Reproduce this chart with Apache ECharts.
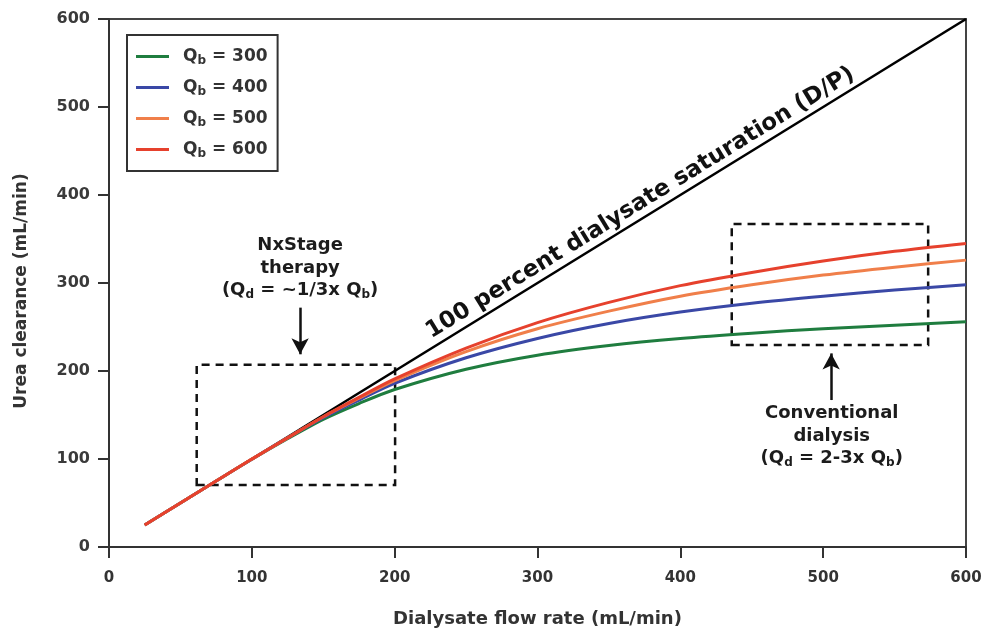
<!DOCTYPE html>
<html><head><meta charset="utf-8">
<script src="https://cdn.jsdelivr.net/npm/echarts@6/dist/echarts.min.js"></script>
<style>html,body{margin:0;padding:0;background:#fff}#c{width:985px;height:634px}</style>
</head><body><div id="c"></div><script>
// Dialysate flow rate (x) sample points, mL/min
const flowRates = [25, 50, 75, 100, 125, 150, 175, 200, 250, 300, 350, 400, 450, 500, 550, 600];
// Urea clearance (mL/min) for each blood flow rate
const qb300 = [25, 50, 75, 99.7, 123, 145, 163, 179, 202, 218, 229, 237, 243, 248, 252, 256];
const qb400 = [25, 50, 75, 99.8, 124, 147, 167, 186, 215, 237, 254, 267, 277, 285, 292, 298];
const qb500 = [25, 50, 75, 99.9, 124, 148, 169, 189, 222, 248, 268, 285, 298, 309, 318, 326];
const qb600 = [25, 50, 75, 99.9, 124, 148, 170, 191, 226, 255, 278, 297, 312, 325, 336, 345];
const seriesNames = ['Qb = 300', 'Qb = 400', 'Qb = 500', 'Qb = 600'];
const seriesColors = ['#1f7d3f', '#3a48a6', '#f07f4a', '#e6412d'];
// 100 percent saturation line (D/P): clearance = dialysate flow
const saturationLine = [[25, 25], [600, 600]];
const axisTicks = [0, 100, 200, 300, 400, 500, 600];
// annotation boxes [xMin, yMin, xMax, yMax] in data units
const boxes = [[61.4, 70.5, 200.3, 207], [436, 229.5, 573.5, 367]];
// arrows [x, yFrom, yTo] in data units
const arrows = [[133.8, 272, 219], [505.6, 167, 220]];
// annotation texts anchored at data points
const notePoints = [[133.8, 317], [506, 126]];
const diagonalLabelPoint = [372, 391];

const allSeries = [qb300, qb400, qb500, qb600];
const font = 'DejaVu Sans';
const chart = echarts.init(document.getElementById('c'), null, {renderer: 'canvas'});

const rich = {
  b: {fontFamily: font, fontWeight: 'bold', fontSize: 18, color: '#1c1c1c', lineHeight: 22.5},
  s: {fontFamily: font, fontWeight: 'bold', fontSize: 12, color: '#1c1c1c', lineHeight: 22.5, padding: [9, 0, 0, 0]}
};

const series = [];
series.push({
  name: 'saturation', type: 'line', data: saturationLine, symbol: 'none',
  lineStyle: {color: '#000', width: 2.6}, z: 2, silent: true
});
allSeries.forEach((vals, i) => {
  series.push({
    name: seriesNames[i], type: 'line', smooth: 0.3, symbol: 'none',
    data: flowRates.map((x, j) => [x, vals[j]]),
    lineStyle: {color: seriesColors[i], width: 3}, itemStyle: {color: seriesColors[i]},
    z: 3 + i
  });
});
// dashed boxes and arrows
series.push({
  name: 'annot', type: 'line', data: [], z: 20, silent: true,
  markArea: {
    silent: true,
    itemStyle: {color: 'rgba(0,0,0,0)', borderColor: '#111', borderWidth: 2.5, borderType: [8, 6]},
    label: {show: false},
    data: boxes.map(b => [{coord: [b[0], b[1]]}, {coord: [b[2], b[3]]}])
  },
  markLine: {
    silent: true, symbol: ['none', 'arrow'], symbolSize: [13, 16],
    label: {show: false},
    lineStyle: {color: '#111', width: 2.5, type: 'solid'},
    data: arrows.map(a => [{coord: [a[0], a[1]]}, {coord: [a[0], a[2]]}])
  }
});
const noteTexts = [
  '{b|NxStage}\n{b|therapy}\n{b|(Q}{s|d}{b| = ~1/3x Q}{s|b}{b|)}',
  '{b|Conventional}\n{b|dialysis}\n{b|(Q}{s|d}{b| = 2-3x Q}{s|b}{b|)}'
];
series.push({
  name: 'notes', type: 'scatter', z: 21, silent: true, symbolSize: 1,
  itemStyle: {color: 'rgba(0,0,0,0)', opacity: 1},
  data: notePoints.map((p, i) => ({value: p, label: {formatter: noteTexts[i]}})),
  label: {show: true, position: 'inside', align: 'center', verticalAlign: 'middle', opacity: 1, rich: rich}
});
series.push({
  name: 'diag', type: 'scatter', z: 21, silent: true, symbolSize: 1,
  itemStyle: {color: 'rgba(0,0,0,0)', opacity: 1},
  data: [diagonalLabelPoint],
  label: {show: true, position: 'inside', rotate: 31.6, opacity: 1,
    formatter: '100 percent dialysate saturation (D/P)',
    fontFamily: font, fontWeight: 'bold', fontSize: 23, color: '#111'}
});

const axisCommon = {
  type: 'value', min: 0, max: 600, interval: 100,
  axisLine: {show: true, onZero: false, lineStyle: {color: '#333', width: 2}},
  axisTick: {show: true, inside: false, length: 11, lineStyle: {color: '#333', width: 2}},
  splitLine: {show: false}
};

chart.setOption({
  animation: false,
  backgroundColor: '#fff',
  grid: {left: 109, right: 19, top: 19, bottom: 87, show: true, borderColor: '#444', borderWidth: 2},
  legend: {
    data: seriesNames, orient: 'vertical', left: 127, top: 35,
    icon: 'rect', itemWidth: 33, itemHeight: 3, itemGap: 10,
    padding: [11, 10, 11, 9],
    borderColor: '#333', borderWidth: 2, backgroundColor: '#fff',
    formatter: name => '{q|Q}{s|b}{t|' + name.slice(2) + '}',
    textStyle: {
      rich: {
        q: {fontFamily: font, fontWeight: 'bold', fontSize: 17, color: '#333', lineHeight: 20, padding: [0, 0, 0, 9]},
        s: {fontFamily: font, fontWeight: 'bold', fontSize: 12, color: '#333', lineHeight: 20, padding: [9, 0, 0, 0]},
        t: {fontFamily: font, fontWeight: 'bold', fontSize: 17, color: '#333', lineHeight: 20}
      }
    }
  },
  xAxis: Object.assign({}, axisCommon, {
    name: 'Dialysate flow rate (mL/min)', nameLocation: 'middle', nameGap: 63,
    nameTextStyle: {fontFamily: font, fontWeight: 'bold', fontSize: 18, color: '#333'},
    axisLabel: {margin: 24, fontFamily: font, fontWeight: 'bold', fontSize: 15, color: '#333',
      formatter: v => axisTicks.includes(v) ? String(v) : ''}
  }),
  yAxis: Object.assign({}, axisCommon, {
    name: 'Urea clearance (mL/min)', nameLocation: 'middle', nameGap: 79,
    nameTextStyle: {fontFamily: font, fontWeight: 'bold', fontSize: 17, color: '#333', padding: [0, 16, 0, 0]},
    axisLabel: {margin: 19, fontFamily: font, fontWeight: 'bold', fontSize: 16, color: '#3a3a3a',
      formatter: v => axisTicks.includes(v) ? String(v) : ''}
  }),
  series: series
});
</script></body></html>
